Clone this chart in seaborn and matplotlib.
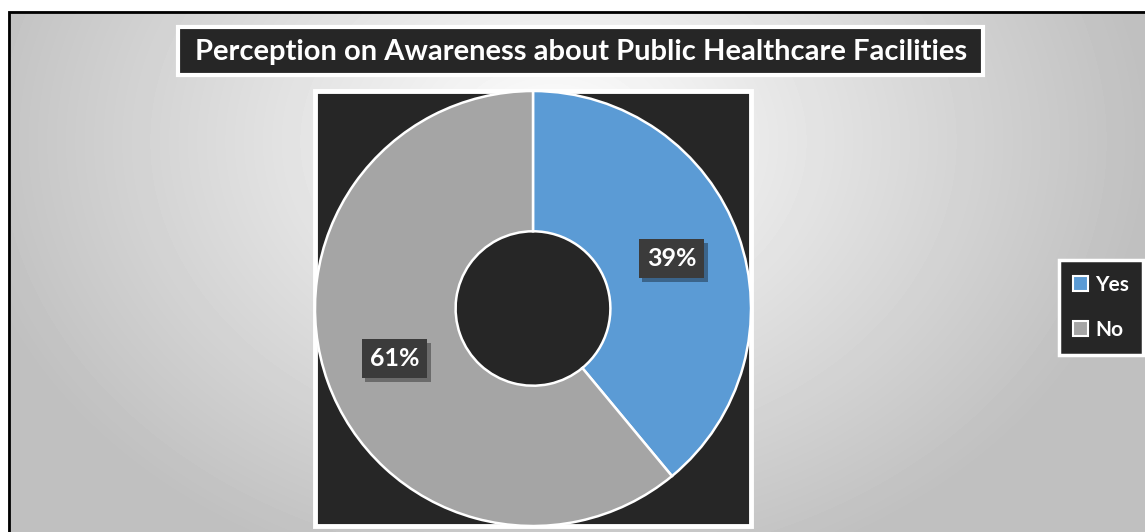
import numpy as np
import matplotlib
matplotlib.use("Agg")
import matplotlib.pyplot as plt
from matplotlib.patches import Rectangle, Patch
import matplotlib.patheffects as pe
import seaborn as sns

# Survey responses
categories = ["Yes", "No"]
shares = [39, 61]
title = "Perception on Awareness about Public Healthcare Facilities"
colors = ["#5B9BD5", "#A5A5A5"]

sns.set_theme(style="white")
plt.rcParams["font.family"] = ["Lato", "DejaVu Sans"]
plt.rcParams["hatch.color"] = "#4d4d4d"
plt.rcParams["hatch.linewidth"] = 1.2

W, H = 1145, 532
fig = plt.figure(figsize=(W / 100, H / 100), dpi=100)
fig.patch.set_facecolor("white")

def fx(px):
    return px / W

def fy(py):
    return 1 - py / H

# Radial grey gradient behind everything, framed by a thin black border
bg = fig.add_axes([fx(8), 0, 1 - fx(8), fy(11)])
yy, xx = np.mgrid[0:H - 11, 0:W - 8]
cx, cy = 545, 130
d = np.sqrt(((xx - cx) / 600.0) ** 2 + ((yy - cy) / 460.0) ** 2)
shade = np.clip(1.0 - 0.25 * d, 0.75, 1.0)
bg.imshow(shade, cmap="gray", vmin=0, vmax=1, aspect="auto", interpolation="bilinear")
bg.set_axis_off()
fig.add_artist(Rectangle((fx(8.5), -0.1), 1.2, fy(11.5) + 0.1, transform=fig.transFigure,
                         fill=False, edgecolor="black", linewidth=2))

# Title box
fig.add_artist(Rectangle((fx(178), fy(75)), fx(983 - 178), (75 - 27) / H,
                         transform=fig.transFigure, facecolor="#262626",
                         edgecolor="white", linewidth=3, zorder=3))
fig.text(fx(581), fy(52), title, color="white", fontsize=21, fontweight="bold",
         ha="center", va="center", zorder=4)

# Plot area
left, right, top, bottom = 315, 751, 91, 526
fig.add_artist(Rectangle((fx(left), fy(bottom)), fx(right - left), (bottom - top) / H,
                         transform=fig.transFigure, facecolor="#262626",
                         edgecolor="white", linewidth=3.5, zorder=1))
ax = fig.add_axes([fx(left), fy(bottom), fx(right - left), (bottom - top) / H])
ax.set_zorder(2)

wedges, _, autotexts = ax.pie(
    shares, colors=colors, startangle=90, counterclock=False, radius=1.0,
    autopct=lambda p: f"{p:.0f}%", pctdistance=0.675,
    wedgeprops=dict(width=0.645, edgecolor="white", linewidth=1.8),
)
for w in wedges:
    w.set_clip_on(False)
ax.set_xlim(-1.0, 1.0)
ax.set_ylim(-1.0, 1.0)
ax.set_aspect("auto")
ax.set_frame_on(False)
ax.set_xticks([])
ax.set_yticks([])

for t in autotexts:
    t.set_color("white")
    t.set_fontsize(18)
    t.set_fontweight("bold")
    t.set_bbox(dict(boxstyle="square,pad=0.32", facecolor="#3b3b3b", edgecolor="none", hatch=".."))
    t.get_bbox_patch().set_path_effects(
        [pe.SimplePatchShadow(offset=(2.5, -3), shadow_rgbFace="black", alpha=0.35), pe.Normal()])
    t.set_zorder(5)

# Legend
handles = [Patch(facecolor=c, edgecolor="white", linewidth=1.5) for c in colors]
leg = fig.legend(handles, categories, loc="center", bbox_to_anchor=(fx(1101), fy(307.5)),
                 frameon=True, fancybox=False, facecolor="#262626", edgecolor="white",
                 framealpha=1, handlelength=0.7, handleheight=0.7, handletextpad=0.35,
                 labelspacing=1.2, borderpad=0.7, prop=dict(size=15, weight="bold"))
leg.get_frame().set_linewidth(2.5)
for txt in leg.get_texts():
    txt.set_color("white")

fig.savefig("out.png", dpi=100)
